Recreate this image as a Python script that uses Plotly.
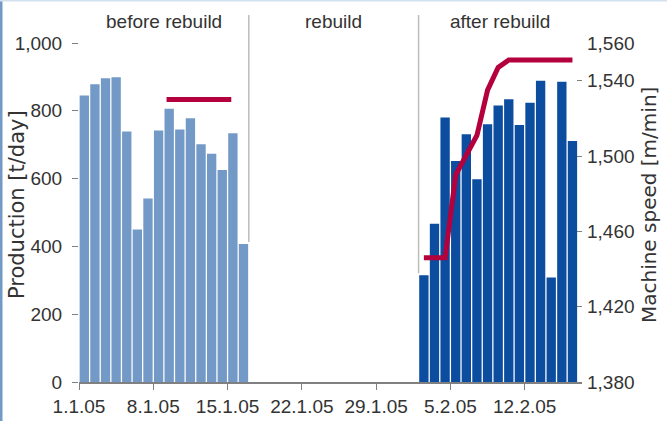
import plotly.graph_objects as go

# day offsets from 1.1.05 (0 = 1 Jan)
before_days = list(range(0, 16))
before_prod = [845, 878, 896, 899, 739, 450, 541, 742, 806, 745, 778, 701, 673, 625, 734, 407]

after_days = list(range(32, 47))
after_prod = [315, 467, 780, 652, 731, 598, 760, 816, 834, 758, 824, 889, 308, 886, 711]

speed_before_days = [8.25, 14.35]
speed_before = [1530, 1530]

speed_after_days = [32.5, 33.5, 34.5, 35.5, 36.5, 37.5, 38.5, 39.5, 40.5, 41.5, 42.5, 43.5, 44.5, 45.5, 46.5]
speed_after = [1446, 1446, 1446, 1490, 1500, 1511, 1535, 1547, 1551, 1551, 1551, 1551, 1551, 1551, 1551]

x_tickvals = [0, 7, 14, 21, 28, 35, 42]
x_ticktext = ["1.1.05", "8.1.05", "15.1.05", "22.1.05", "29.1.05", "5.2.05", "12.2.05"]
prod_ticks = [0, 200, 400, 600, 800, 1000]
speed_ticks = [1380, 1420, 1460, 1500, 1540, 1560]

phases = ["before rebuild", "rebuild", "after rebuild"]
phase_bounds = [0, 16, 32, 47.4]

LIGHT = "#7399C6"
DARK = "#0C4DA0"
RED = "#B4003C"
TEXT = "#333333"
FONT = "Liberation Sans"

W, H = 667, 421
L, R, T, B = 79, 85, 43, 39
pw, ph = W - L - R, H - T - B

fig = go.Figure()

fig.add_trace(go.Bar(x=[d + 0.5 for d in before_days], y=before_prod, width=0.88,
                     marker=dict(color=LIGHT, line=dict(width=0)), name="before"))
fig.add_trace(go.Bar(x=[d + 0.5 for d in after_days], y=after_prod, width=0.88,
                     marker=dict(color=DARK, line=dict(width=0)), name="after"))

fig.add_trace(go.Scatter(x=speed_before_days, y=speed_before, yaxis="y2", mode="lines",
                         line=dict(color=RED, width=5)))
fig.add_trace(go.Scatter(x=speed_after_days, y=speed_after, yaxis="y2", mode="lines",
                         line=dict(color=RED, width=5)))

# phase separators, ending just above the neighbouring bar
sep_tops = [before_prod[-1], after_prod[0]]
for xb, top in zip(phase_bounds[1:3], sep_tops):
    fig.add_shape(type="line", xref="x", yref="paper", x0=xb, x1=xb,
                  y0=top / 1000 + 0.006, y1=(H - B - 15) / ph,
                  line=dict(color="#BDBDBD", width=1.5))

for i, name in enumerate(phases):
    fig.add_annotation(x=(phase_bounds[i] + phase_bounds[i + 1]) / 2, xref="x",
                       y=(H - B - 22) / ph, yref="paper", yanchor="middle",
                       text=name, showarrow=False,
                       font=dict(family=FONT, size=19, color=TEXT))

# axis titles (placed by hand, margins are fixed)
fig.add_annotation(text="Production [t/day]", textangle=-90, showarrow=False,
                   xref="paper", yref="paper", x=(17 - L) / pw, y=0.522,
                   xanchor="center", yanchor="middle",
                   font=dict(family="DejaVu Sans", size=21, color=TEXT))
fig.add_annotation(text="Machine speed [m/min]", textangle=-90, showarrow=False,
                   xref="paper", yref="paper", x=(649 - L) / pw, y=0.522,
                   xanchor="center", yanchor="middle",
                   font=dict(family="DejaVu Sans", size=20, color=TEXT))

# frame edges of the original figure
fig.add_shape(type="rect", xref="paper", yref="paper", x0=-L / pw, x1=(2.5 - L) / pw,
              y0=-B / ph, y1=(H - B) / ph, fillcolor=LIGHT, line=dict(width=0))
fig.add_shape(type="rect", xref="paper", yref="paper", x0=-L / pw, x1=(W - L) / pw,
              y0=(H - B - 1.5) / ph, y1=(H - B) / ph, fillcolor="#D3E0F0", line=dict(width=0))

fig.update_layout(
    width=W, height=H,
    margin=dict(l=L, r=R, t=T, b=B, autoexpand=False),
    paper_bgcolor="white", plot_bgcolor="white",
    showlegend=False,
    font=dict(family=FONT, size=19, color=TEXT),
    xaxis=dict(range=[0, 47.4], tickvals=x_tickvals, ticktext=x_ticktext, automargin=False,
               showgrid=False, zeroline=False, showline=True, linecolor="#808080",
               linewidth=1.5, ticks="outside", ticklen=6, tickcolor="#808080"),
    yaxis=dict(range=[0, 1000], tickvals=prod_ticks, tickformat=",", automargin=False,
               showgrid=False, zeroline=False, showline=False,
               ticks="outside", ticklen=6, tickcolor="#808080", ticklabelstandoff=6),
    yaxis2=dict(range=[1380, 1560], tickvals=speed_ticks, tickformat=",", automargin=False,
                overlaying="y", side="right", anchor="x",
                showgrid=False, zeroline=False, showline=False,
                ticks="inside", ticklen=5, tickcolor="#808080", ticklabelstandoff=4),
)

fig.write_html("out.html", config={"displayModeBar": False},
               post_script="document.body.style.margin='0';")
